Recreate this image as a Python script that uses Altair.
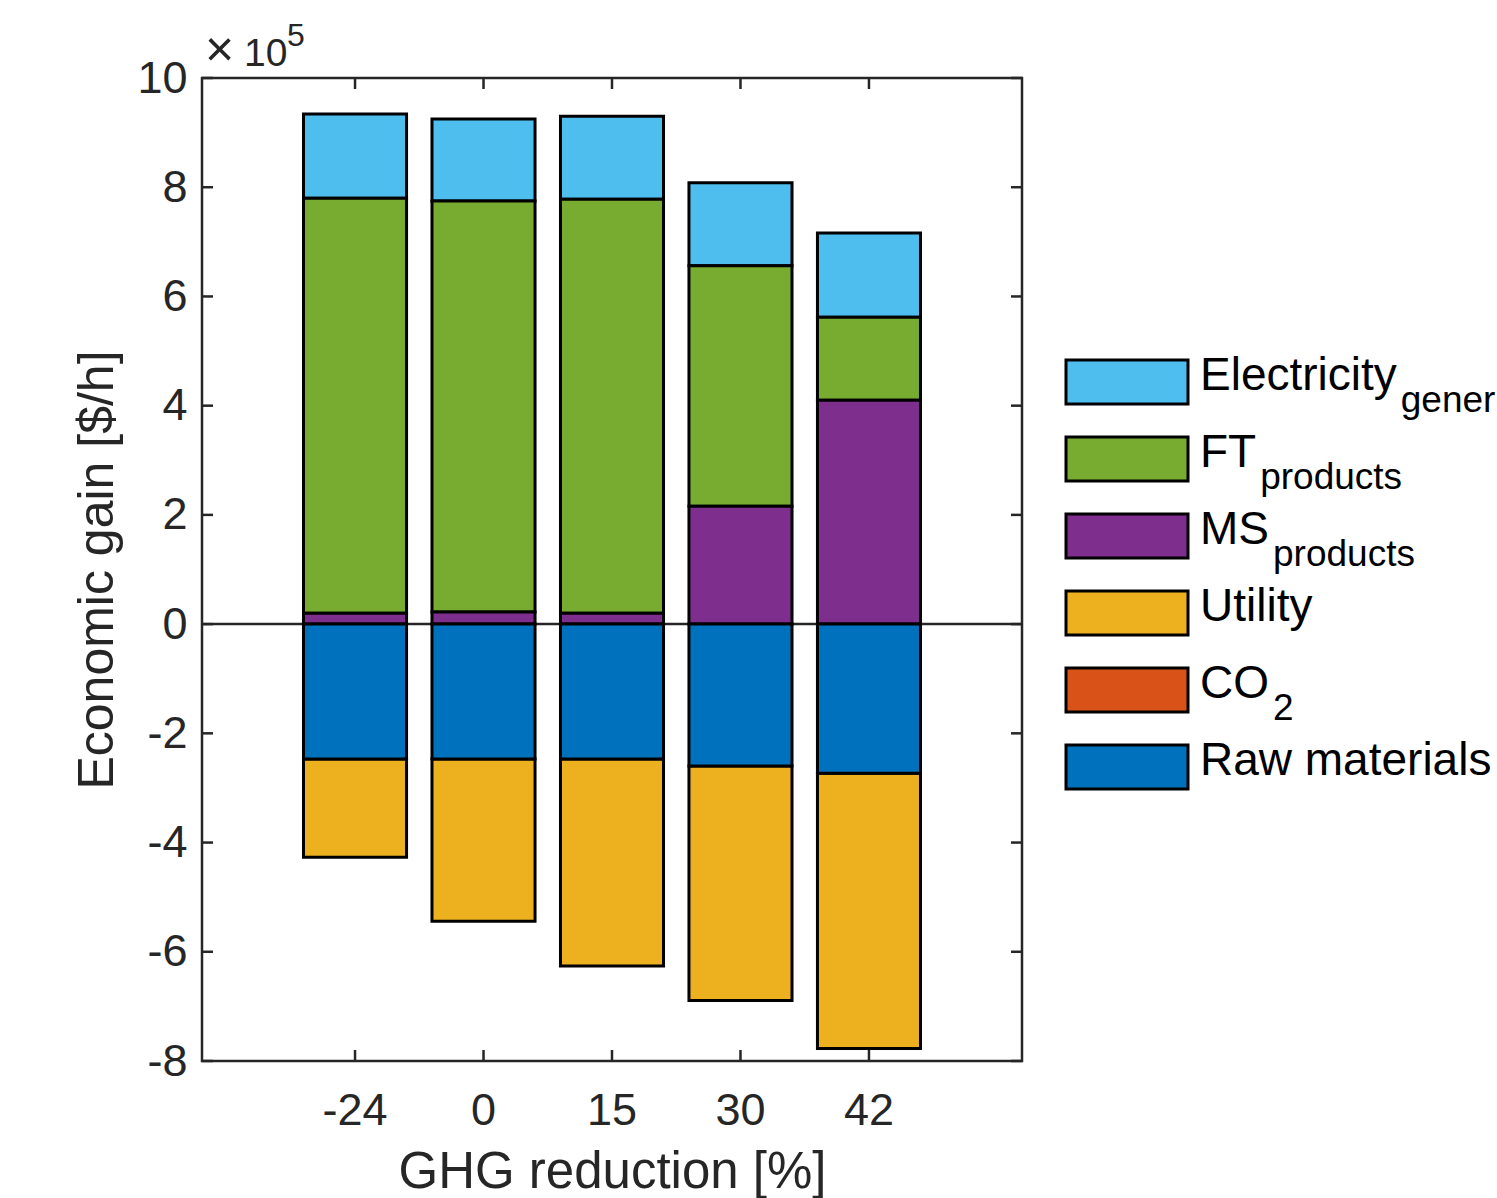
import altair as alt
import pandas as pd

# ---- data (values in 10^5 $/h) ----
categories = ["-24", "0", "15", "30", "42"]
electricity = [1.54, 1.50, 1.52, 1.52, 1.54]
ft_products = [7.60, 7.53, 7.58, 4.40, 1.52]
ms_products = [0.20, 0.22, 0.20, 2.16, 4.10]
utility = [-1.80, -2.97, -3.79, -4.29, -5.04]
co2 = [0.0, 0.0, 0.0, 0.0, 0.0]
raw_materials = [-2.47, -2.47, -2.47, -2.60, -2.73]

series_names = ["Electricity", "FT", "MS", "Utility", "CO2", "Raw materials"]
series_main = ["Electricity", "FT", "MS", "Utility", "CO", "Raw materials"]
series_sub = ["generation", "products", "products", "", "2", ""]
series_colors = ["#4DBEEE", "#77AC30", "#7E2F8E", "#EDB120", "#D95319", "#0072BD"]
stack_order = {"MS": 0, "FT": 1, "Electricity": 2, "Raw materials": 3, "CO2": 4, "Utility": 5}
y_ticks = [-8, -6, -4, -2, 0, 2, 4, 6, 8, 10]

FONT = "Liberation Sans"
TXT = "#262626"
W, H = 820, 983

series_values = {
    "Electricity": electricity,
    "FT": ft_products,
    "MS": ms_products,
    "Utility": utility,
    "CO2": co2,
    "Raw materials": raw_materials,
}
rows = []
for name, vals in series_values.items():
    for c, v in zip(categories, vals):
        rows.append({"cat": c, "series": name, "value": v, "ord": stack_order[name]})
df = pd.DataFrame(rows)

xscale = alt.Scale(domain=categories, paddingInner=0.198, paddingOuter=0.79)
yscale = alt.Scale(domain=[-8, 10], nice=False, zero=False)
cscale = alt.Scale(domain=series_names, range=series_colors)

base = alt.Chart(df)

zero_line = alt.Chart(pd.DataFrame({"z": [0]})).mark_rule(color=TXT, strokeWidth=2.5).encode(
    y=alt.Y("z:Q", scale=yscale)
)

bars = base.transform_filter("datum.value != 0").mark_bar(
    stroke="black", strokeWidth=3
).encode(
    x=alt.X("cat:N", scale=xscale, sort=categories,
            axis=alt.Axis(title="GHG reduction [%]", labelAngle=0, ticks=False, domain=False,
                          labelFontSize=45, labelFont=FONT, labelColor=TXT, labelPadding=27,
                          titleFontSize=51, titleFont=FONT, titleColor=TXT, titleFontWeight="normal",
                          titlePadding=14)),
    y=alt.Y("value:Q", stack="zero", scale=yscale,
            axis=alt.Axis(title="Economic gain [$/h]", values=y_ticks, ticks=False, domain=False,
                          grid=False, labelFontSize=45, labelFont=FONT, labelColor=TXT,
                          labelExpr="toString(datum.value)",
                          labelPadding=15, titleFontSize=50, titleFont=FONT, titleColor=TXT,
                          titleFontWeight="normal", titlePadding=14)),
    color=alt.Color("series:N", scale=cscale, legend=None),
    order=alt.Order("ord:Q"),
)

ytick_df = pd.DataFrame({"t": y_ticks})
left_ticks = alt.Chart(ytick_df).mark_rule(color=TXT, strokeWidth=2.5).encode(
    y=alt.Y("t:Q", scale=yscale), x=alt.value(0), x2=alt.value(11)
)
right_ticks = alt.Chart(ytick_df).mark_rule(color=TXT, strokeWidth=2.5).encode(
    y=alt.Y("t:Q", scale=yscale), x=alt.value(W - 11), x2=alt.value(W)
)
xtick_df = pd.DataFrame({"cat": categories})
bottom_ticks = alt.Chart(xtick_df).mark_rule(color=TXT, strokeWidth=2.5).encode(
    x=alt.X("cat:N", scale=xscale, sort=categories), y=alt.value(H - 11), y2=alt.value(H)
)
top_ticks = alt.Chart(xtick_df).mark_rule(color=TXT, strokeWidth=2.5).encode(
    x=alt.X("cat:N", scale=xscale, sort=categories), y=alt.value(0), y2=alt.value(11)
)

exp_df = pd.DataFrame({"x": ["\u00d7"], "a": ["10"], "b": ["5"]})
exp_times = alt.Chart(exp_df).mark_text(
    font=FONT, fontSize=50, color=TXT, align="left", baseline="alphabetic"
).encode(text="x:N", x=alt.value(3), y=alt.value(-12))
exp_main = alt.Chart(exp_df).mark_text(
    font=FONT, fontSize=39, color=TXT, align="left", baseline="alphabetic"
).encode(text="a:N", x=alt.value(42), y=alt.value(-12))
exp_sup = alt.Chart(exp_df).mark_text(
    font=FONT, fontSize=32, color=TXT, align="left", baseline="alphabetic"
).encode(text="b:N", x=alt.value(85), y=alt.value(-32))

main = alt.layer(
    zero_line, bars, left_ticks, right_ticks, bottom_ticks, top_ticks,
    exp_times, exp_main, exp_sup
).properties(width=W, height=H, view=alt.ViewBackground(stroke=TXT, strokeWidth=2.5))

# ---- hand-built legend with subscripts ----
ARIAL = {"E": .667, "l": .222, "e": .556, "c": .5, "t": .278, "r": .333, "i": .222,
         "y": .5, "F": .611, "T": .611, "M": .833, "S": .667, "C": .722, "O": .778}
LEG_FS = 46
TEXT_X = 134


def text_width(s, size):
    return sum(ARIAL.get(ch, 0.556) for ch in s) * size


leg_df = pd.DataFrame({
    "series": series_names,
    "idx": list(range(len(series_names))),
    "main": series_main,
    "sub": series_sub,
})
leg_df["subx"] = [TEXT_X + text_width(m, LEG_FS) + 4 for m in series_main]

# row i centred at 304 + 77*i px from the top of the 983-px panel
lyscale = alt.Scale(domain=[-304 / 77, (H - 304) / 77], reverse=True, nice=False, zero=False)
leg_base = alt.Chart(leg_df)
leg_boxes = leg_base.transform_calculate(
    y0="datum.idx - 0.285", y1="datum.idx + 0.285"
).mark_rect(stroke="black", strokeWidth=3).encode(
    y=alt.Y("y0:Q", scale=lyscale, axis=None),
    y2="y1:Q",
    x=alt.value(0), x2=alt.value(122),
    color=alt.Color("series:N", scale=cscale, legend=None),
)
leg_text = leg_base.mark_text(
    font=FONT, fontSize=LEG_FS, color="black", align="left", baseline="alphabetic", dy=8, clip=True
).encode(
    y=alt.Y("idx:Q", scale=lyscale, axis=None),
    x=alt.value(TEXT_X), text="main:N",
)
leg_sub = leg_base.mark_text(
    font=FONT, fontSize=37, color="black", align="left", baseline="alphabetic", dy=30, clip=True
).encode(
    y=alt.Y("idx:Q", scale=lyscale, axis=None),
    x=alt.X("subx:Q", scale=None, axis=None), text="sub:N",
)
legend = alt.layer(leg_boxes, leg_text, leg_sub).properties(
    width=429, height=H, view=alt.ViewBackground(stroke="transparent")
)

chart = alt.hconcat(main, legend, spacing=39).configure(
    background="white", padding={"left": 71, "top": 18, "right": 0, "bottom": 0}
).configure_view(stroke="transparent")

chart.save("out.html", embed_options={"renderer": "svg", "actions": False})
